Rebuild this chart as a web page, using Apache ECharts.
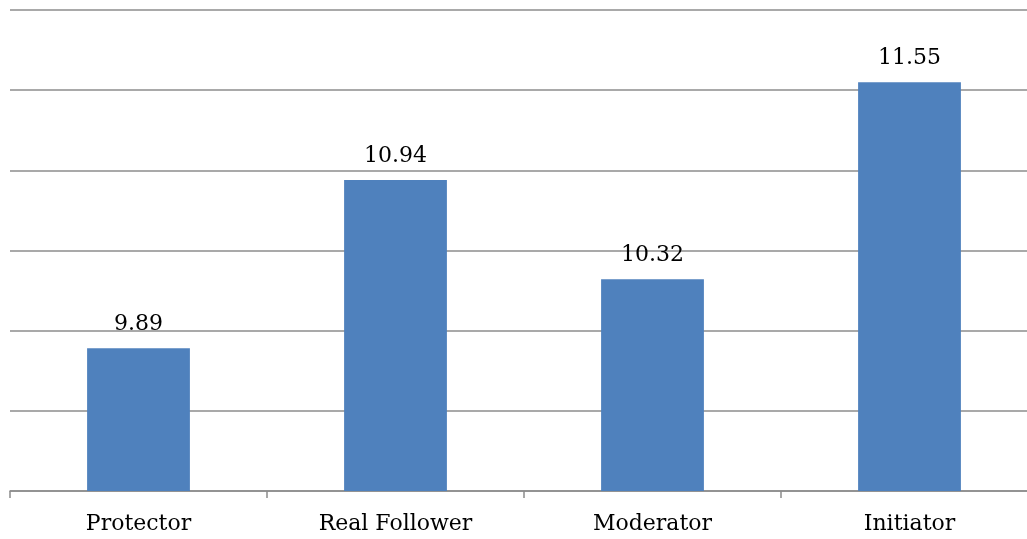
<!DOCTYPE html>
<html>
<head>
<meta charset="utf-8">
<script src="https://cdn.jsdelivr.net/npm/echarts@6/dist/echarts.min.js"></script>
<style>
  html, body { margin: 0; padding: 0; background: #fff; overflow: hidden; }
  #chart { width: 1027px; height: 539px; }
</style>
</head>
<body>
<div id="chart"></div>
<script>
// Categories and their scores
const categories = ['Protector', 'Real Follower', 'Moderator', 'Initiator'];
const scores = [9.89, 10.94, 10.32, 11.55];

// Value axis range (no tick labels are shown)
const yMin = 9;
const yMax = 12;
const yStep = 0.5;

const fontFamily = '"DejaVu Serif", "Liberation Serif", serif';

const chart = echarts.init(document.getElementById('chart'));
chart.setOption({
  animation: false,
  // plot area runs slightly past the right edge of the canvas
  grid: {
    left: 10, top: 10, width: 1028, height: 481,
    containLabel: false,
    outerBoundsMode: 'none'
  },
  xAxis: {
    type: 'category',
    data: categories,
    axisLine: { lineStyle: { color: '#8c8c8c', width: 1.5 } },
    axisTick: { show: true, length: 7, lineStyle: { color: '#8c8c8c', width: 1.5 } },
    axisLabel: { color: '#000', fontFamily: fontFamily, fontSize: 22, margin: 22 }
  },
  yAxis: {
    type: 'value',
    min: yMin,
    max: yMax,
    interval: yStep,
    axisLine: { show: false },
    axisTick: { show: false },
    axisLabel: { show: false },
    splitLine: { lineStyle: { color: '#8c8c8c', width: 1.5 } }
  },
  series: [{
    type: 'bar',
    data: scores,
    barWidth: '40%',
    itemStyle: { color: '#4F81BD' },
    label: {
      show: true,
      position: 'top',
      distance: 13,
      color: '#000',
      fontFamily: fontFamily,
      fontSize: 22,
      formatter: p => p.value.toFixed(2)
    }
  }]
});
</script>
</body>
</html>
